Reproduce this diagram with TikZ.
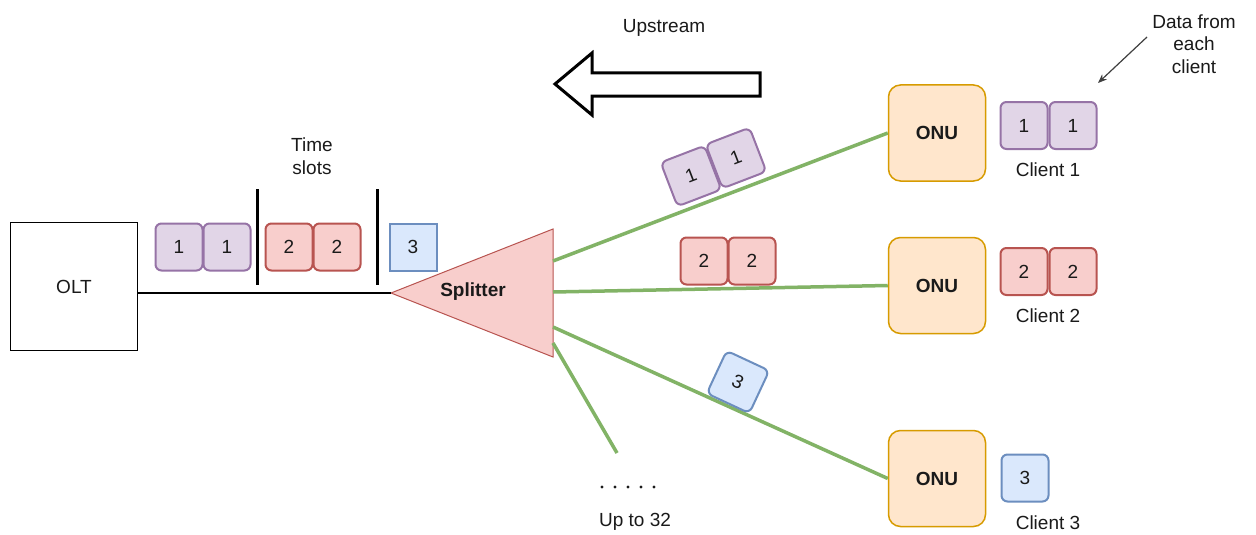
\documentclass[tikz,border=0pt]{standalone}
\usepackage{fontspec}
\setmainfont{Liberation Sans}
\usetikzlibrary{arrows.meta}
\definecolor{purF}{HTML}{E1D5E7}\definecolor{purD}{HTML}{9673A6}
\definecolor{redF}{HTML}{F8CECC}\definecolor{redD}{HTML}{B85450}
\definecolor{bluF}{HTML}{DAE8FC}\definecolor{bluD}{HTML}{6C8EBF}
\definecolor{oraF}{HTML}{FFE6CC}\definecolor{oraD}{HTML}{D79B00}
\definecolor{grn}{HTML}{82B366}
\definecolor{txt}{HTML}{1A1A1A}
\begin{document}
\begin{tikzpicture}[x=1pt,y=-1pt,
  every node/.style={font=\fontsize{19}{22.5}\selectfont, text=txt},
  pkt/.style={line width=2pt, rounded corners=6pt, minimum width=47pt, minimum height=47pt, inner sep=0pt, anchor=center},
  pur/.style={pkt, fill=purF, draw=purD},
  rd/.style={pkt, fill=redF, draw=redD},
  blu/.style={pkt, fill=bluF, draw=bluD},
  onu/.style={draw=oraD, fill=oraF, line width=1.5pt, rounded corners=12pt, minimum width=97pt, minimum height=96pt, font=\fontsize{19}{22.5}\selectfont\bfseries},
  fiber/.style={draw=grn, line width=3.5pt},
  bar/.style={line width=3pt},
  lbl/.style={align=center, inner sep=0pt}
]
\useasboundingbox (0,0) rectangle (1256,535);
\fill[white] (0,0) rectangle (1256,535);

% Upstream block arrow
\node[lbl] (up) at (664,28) {Upstream};
\draw[line width=3pt, line join=miter, fill=white] (555,84) -- (592,53) -- (592,73) -- (760,73) -- (760,96) -- (592,96) -- (592,115) -- cycle;

% OLT
\node[draw, line width=1.5pt, fill=white, minimum width=127pt, minimum height=128pt] (olt) at (74,286.5) {OLT};

% Splitter
\coordinate (tip) at (391,293);
\draw[draw=redD, fill=redF, line width=1pt, line join=miter] (tip) -- (553,229) -- (553,357) -- cycle;
\node[font=\fontsize{19}{22.5}\selectfont\bfseries] (spl) at (473,292) {Splitter};
\draw[line width=2pt] (olt.east |- tip) -- (tip);

% time slots
\node[lbl] (ts) at (312,156) {Time\\slots};
\draw[bar] (257,189) -- (257,285);
\draw[bar] (377,189) -- (377,285);
\node[pur] (p1a) at (179,247) {1};
\node[pur] (p1b) at (227,247) {1};
\node[rd] (p2a) at (289,247) {2};
\node[rd] (p2b) at (337,247) {2};
\node[blu, rounded corners=0pt] (p3) at (413,247) {3};

% ONUs
\node[onu] (onu1) at (937,133) {ONU};
\node[onu] (onu2) at (937,285.5) {ONU};
\node[onu] (onu3) at (937,478.5) {ONU};

% fibers
\coordinate (s1) at (553,261);
\coordinate (s2) at (553,292);
\coordinate (s3) at (553,327);
\coordinate (s4) at (553,343);
\coordinate (e4) at (617,453);
\draw[fiber] (s1) -- (onu1.west);
\draw[fiber] (s2) -- (onu2.west);
\draw[fiber] (s3) -- (onu3.west);
\draw[fiber] (s4) -- (e4);

% packets on fibers
\node[pur, rotate=21] (f1a) at (691,176) {1};
\node[pur, rotate=21] (f1b) at (736,158) {1};
\node[rd] (f2a) at (704,261) {2};
\node[rd] (f2b) at (752,261) {2};
\node[blu, rotate=-25] (f3) at (738,382) {3};

% clients
\node[pur] (c1a) at (1024,125.5) {1};
\node[pur] (c1b) at (1073,125.5) {1};
\node[lbl] (cl1) at (1048,170) {Client 1};
\node[rd] (c2a) at (1024,271.5) {2};
\node[rd] (c2b) at (1073,271.5) {2};
\node[lbl] (cl2) at (1048,316) {Client 2};
\node[blu] (c3) at (1025,478) {3};
\node[lbl] (cl3) at (1048,523) {Client 3};

% annotation
\node[lbl] (data) at (1194,44) {Data from\\each\\client};
\coordinate (aS) at (1147,37);
\coordinate (aE) at (1098,83);
\draw[draw=black!75, line width=1.2pt, -{Stealth[length=9pt,width=7pt]}] (aS) -- (aE);

% more outputs
\foreach \i in {0,...,4} \fill[txt] (602+13*\i,487) circle (1.6);
\node[lbl] (upto) at (635,522) {Up to 32};
\end{tikzpicture}
\end{document}
